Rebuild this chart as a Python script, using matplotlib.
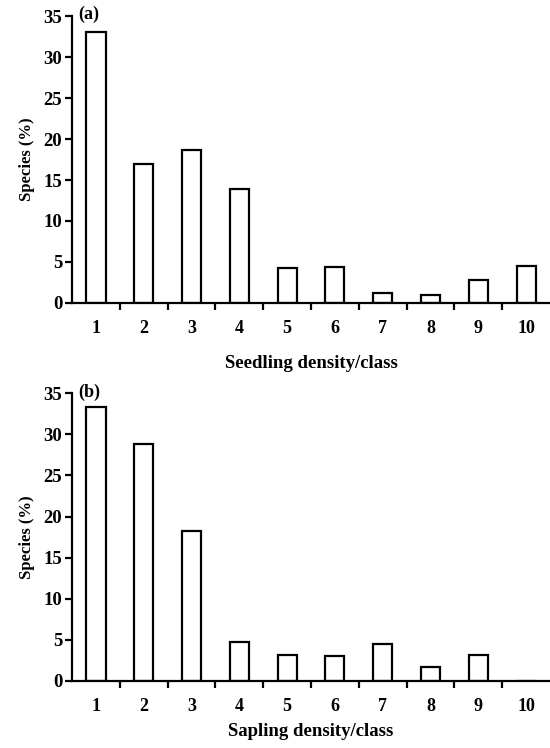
import numpy as np
import matplotlib.pyplot as plt

plt.rcParams['font.family'] = ['Liberation Serif', 'DejaVu Serif']

# density classes and species percentages
classes = np.arange(1, 11)
seedling = [33.0, 17.0, 18.6, 13.9, 4.3, 4.4, 1.2, 1.0, 2.8, 4.5]
sapling = [33.3, 28.8, 18.2, 4.7, 3.2, 3.0, 4.5, 1.7, 3.1, 0.0]
yticks = [0, 5, 10, 15, 20, 25, 30, 35]

fig = plt.figure(figsize=(5.5, 7.48), dpi=100)
ax_a = fig.add_axes([0.131, 0.595, 0.869, 0.3835])
ax_b = fig.add_axes([0.131, 0.0896, 0.869, 0.3846])


def draw(ax, vals, xlabel, tag, xpad):
    ax.bar(classes, vals, width=0.4, facecolor='white', edgecolor='black', linewidth=1.6)
    ax.set_xlim(0.5, 10.5)
    ax.set_ylim(0, 35)
    ax.set_yticks(yticks)
    ax.set_xticks(classes)
    ax.set_xticks(classes[:-1] + 0.5, minor=True)
    ax.tick_params(axis='x', which='major', length=0, pad=12, labelsize=13)
    ax.tick_params(axis='x', which='minor', length=5, width=1.6, direction='out')
    ax.tick_params(axis='y', length=5, width=1.6, direction='out', labelsize=13.5, pad=2)
    for lab in ax.get_xticklabels() + ax.get_yticklabels():
        lab.set_fontweight('bold')
    for s in ['top', 'right']:
        ax.spines[s].set_visible(False)
    for s in ['left', 'bottom']:
        ax.spines[s].set_linewidth(1.6)
    ax.set_ylabel('Species (%)', fontsize=12, fontweight='bold', labelpad=6)
    ax.set_xlabel(xlabel, fontsize=13.5, fontweight='bold', labelpad=xpad)
    ax.text(0.012, 1.035, tag, transform=ax.transAxes, fontsize=13, fontweight='bold', va='top', ha='left')


draw(ax_a, seedling, 'Seedling density/class', '(a)', 13)
draw(ax_b, sapling, 'Sapling density/class', '(b)', 6)

fig.savefig('out.png', dpi=100)
